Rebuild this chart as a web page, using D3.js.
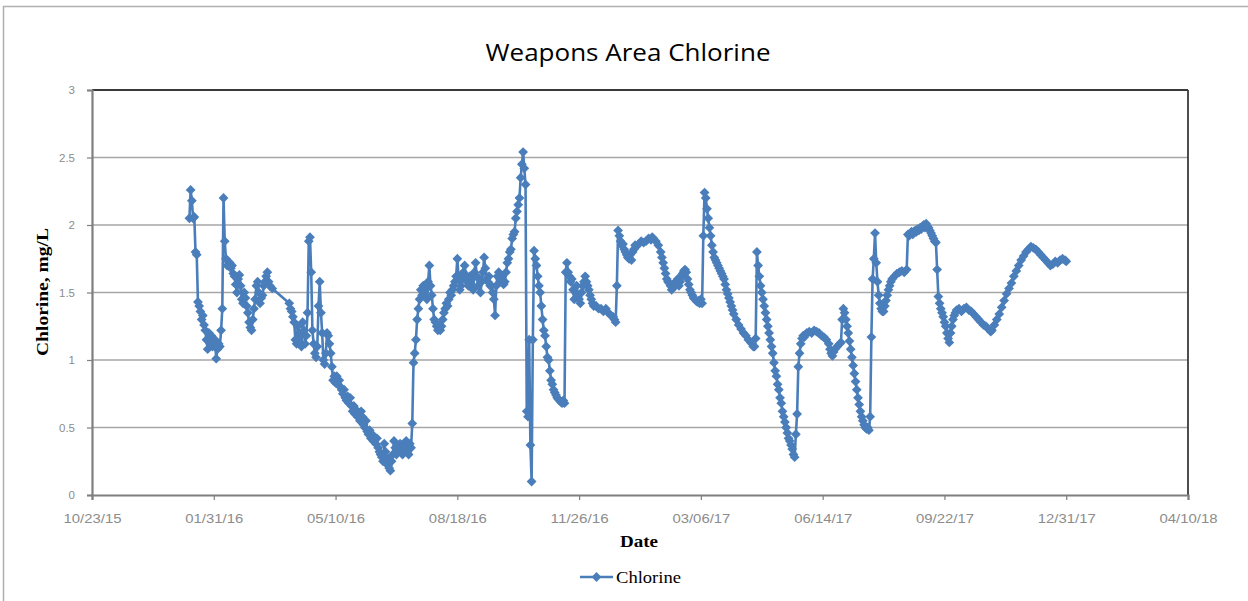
<!DOCTYPE html>
<html>
<head>
<meta charset="utf-8">
<script src="https://cdn.jsdelivr.net/npm/d3@7"></script>
<style>
  html, body { margin: 0; padding: 0; background: #ffffff; }
  svg { display: block; }
</style>
</head>
<body>
<svg id="chart" width="1248" height="601"></svg>
<script>
// ---------- data ----------
const title = "Weapons Area Chlorine";
const seriesName = "Chlorine";
const xTitle = "Date";
const yTitle = "Chlorine, mg/L";
const xTickLabels = ["10/23/15","01/31/16","05/10/16","08/18/16","11/26/16","03/06/17","06/14/17","09/22/17","12/31/17","04/10/18"];
const yTickValues = [0, 0.5, 1, 1.5, 2, 2.5, 3];

const dates = [
"2016-01-11","2016-01-12","2016-01-13","2016-01-14","2016-01-15","2016-01-16","2016-01-17","2016-01-18","2016-01-19","2016-01-20",
"2016-01-21","2016-01-22","2016-01-23","2016-01-24","2016-01-25","2016-01-26","2016-01-27","2016-01-28","2016-01-29","2016-01-30",
"2016-01-31","2016-02-01","2016-02-02","2016-02-03","2016-02-04","2016-02-05","2016-02-06","2016-02-07","2016-02-08","2016-02-09",
"2016-02-10","2016-02-11","2016-02-12","2016-02-13","2016-02-14","2016-02-15","2016-02-16","2016-02-17","2016-02-18","2016-02-19",
"2016-02-20","2016-02-21","2016-02-22","2016-02-23","2016-02-24","2016-02-25","2016-02-26","2016-02-27","2016-02-28","2016-02-29",
"2016-03-01","2016-03-02","2016-03-03","2016-03-04","2016-03-05","2016-03-06","2016-03-07","2016-03-08","2016-03-09","2016-03-10",
"2016-03-11","2016-03-12","2016-03-13","2016-03-14","2016-03-15","2016-03-16","2016-03-17","2016-03-19",
"2016-04-02","2016-04-03","2016-04-04","2016-04-05","2016-04-06","2016-04-07","2016-04-08","2016-04-09","2016-04-10","2016-04-11",
"2016-04-12","2016-04-13","2016-04-14","2016-04-15","2016-04-16","2016-04-17","2016-04-18","2016-04-19","2016-04-20","2016-04-21",
"2016-04-22","2016-04-23","2016-04-24","2016-04-25","2016-04-26","2016-04-27","2016-04-28","2016-04-29","2016-04-30",
"2016-05-01","2016-05-02","2016-05-03","2016-05-04","2016-05-05","2016-05-06","2016-05-07","2016-05-08","2016-05-09","2016-05-10",
"2016-05-11","2016-05-12","2016-05-13","2016-05-14","2016-05-15","2016-05-16","2016-05-17","2016-05-18","2016-05-19","2016-05-20",
"2016-05-21","2016-05-22","2016-05-23","2016-05-24","2016-05-25","2016-05-26","2016-05-27","2016-05-28","2016-05-29","2016-05-30","2016-05-31",
"2016-06-01","2016-06-02","2016-06-03","2016-06-04","2016-06-05","2016-06-06","2016-06-07","2016-06-08","2016-06-09","2016-06-10",
"2016-06-11","2016-06-12","2016-06-13","2016-06-14","2016-06-15","2016-06-16","2016-06-17","2016-06-18","2016-06-19","2016-06-20",
"2016-06-21","2016-06-22","2016-06-23","2016-06-24","2016-06-25","2016-06-26","2016-06-27","2016-06-28","2016-06-29","2016-06-30",
"2016-07-01","2016-07-02","2016-07-03","2016-07-04","2016-07-05","2016-07-06","2016-07-07","2016-07-08","2016-07-09","2016-07-10",
"2016-07-11","2016-07-12","2016-07-13","2016-07-14","2016-07-15","2016-07-16","2016-07-17","2016-07-18","2016-07-19","2016-07-20",
"2016-07-21","2016-07-22","2016-07-23","2016-07-24","2016-07-25","2016-07-26","2016-07-27","2016-07-28","2016-07-29","2016-07-30","2016-07-31",
"2016-08-01","2016-08-02","2016-08-03","2016-08-04","2016-08-05","2016-08-06","2016-08-07","2016-08-08","2016-08-09","2016-08-10",
"2016-08-11","2016-08-12","2016-08-13","2016-08-14","2016-08-15","2016-08-16","2016-08-17","2016-08-18","2016-08-19","2016-08-20",
"2016-08-21","2016-08-22","2016-08-23","2016-08-24","2016-08-25","2016-08-26","2016-08-27","2016-08-28","2016-08-29","2016-08-30","2016-08-31",
"2016-09-01","2016-09-02","2016-09-03","2016-09-04","2016-09-05","2016-09-06","2016-09-07","2016-09-08","2016-09-09","2016-09-10",
"2016-09-11","2016-09-12","2016-09-13","2016-09-14","2016-09-15","2016-09-16","2016-09-17","2016-09-18","2016-09-19","2016-09-20",
"2016-09-21","2016-09-22","2016-09-23","2016-09-24","2016-09-25","2016-09-26","2016-09-27","2016-09-28","2016-09-29","2016-09-30",
"2016-10-01","2016-10-02","2016-10-03","2016-10-04","2016-10-05","2016-10-06","2016-10-07","2016-10-08","2016-10-09","2016-10-10",
"2016-10-11","2016-10-12","2016-10-13","2016-10-14","2016-10-15","2016-10-16","2016-10-17","2016-10-18","2016-10-19","2016-10-20",
"2016-10-21","2016-10-22","2016-10-23","2016-10-24","2016-10-25","2016-10-26","2016-10-27","2016-10-28","2016-10-29","2016-10-30","2016-10-31",
"2016-11-01","2016-11-02","2016-11-03","2016-11-04","2016-11-05","2016-11-06","2016-11-07","2016-11-08","2016-11-09","2016-11-10",
"2016-11-11","2016-11-12","2016-11-13","2016-11-14","2016-11-15","2016-11-16","2016-11-17","2016-11-18","2016-11-19","2016-11-20",
"2016-11-21","2016-11-22","2016-11-23","2016-11-24","2016-11-25","2016-11-26","2016-11-27","2016-11-28","2016-11-29","2016-11-30",
"2016-12-01","2016-12-02","2016-12-03","2016-12-04","2016-12-05","2016-12-06","2016-12-07","2016-12-08","2016-12-10","2016-12-12",
"2016-12-14","2016-12-16","2016-12-18","2016-12-20","2016-12-22","2016-12-24","2016-12-25","2016-12-26","2016-12-27","2016-12-28",
"2016-12-29","2016-12-30","2016-12-31",
"2017-01-01","2017-01-02","2017-01-03","2017-01-04","2017-01-05","2017-01-06","2017-01-07","2017-01-08","2017-01-09","2017-01-10",
"2017-01-11","2017-01-12","2017-01-14","2017-01-16","2017-01-18","2017-01-20","2017-01-22","2017-01-24","2017-01-25","2017-01-26",
"2017-01-28","2017-01-30",
"2017-02-01","2017-02-02","2017-02-03","2017-02-04","2017-02-05","2017-02-06","2017-02-07","2017-02-08","2017-02-09","2017-02-10",
"2017-02-11","2017-02-12","2017-02-13","2017-02-14","2017-02-15","2017-02-16","2017-02-17","2017-02-18","2017-02-19","2017-02-20",
"2017-02-21","2017-02-22","2017-02-23","2017-02-24","2017-02-25","2017-02-26","2017-02-27","2017-02-28",
"2017-03-01","2017-03-02","2017-03-03","2017-03-04","2017-03-05","2017-03-06","2017-03-07","2017-03-08","2017-03-09","2017-03-10",
"2017-03-11","2017-03-12","2017-03-13","2017-03-14","2017-03-15","2017-03-16","2017-03-17","2017-03-18","2017-03-19","2017-03-20",
"2017-03-21","2017-03-22","2017-03-23","2017-03-24","2017-03-25","2017-03-26","2017-03-27","2017-03-28","2017-03-29","2017-03-30","2017-03-31",
"2017-04-01","2017-04-02","2017-04-04","2017-04-06","2017-04-08","2017-04-10","2017-04-12","2017-04-14","2017-04-16","2017-04-17",
"2017-04-18","2017-04-19","2017-04-20","2017-04-21","2017-04-22","2017-04-23","2017-04-24","2017-04-25","2017-04-26","2017-04-27",
"2017-04-28","2017-04-29","2017-04-30",
"2017-05-01","2017-05-02","2017-05-03","2017-05-04","2017-05-05","2017-05-06","2017-05-07","2017-05-08","2017-05-09","2017-05-10",
"2017-05-11","2017-05-12","2017-05-13","2017-05-14","2017-05-15","2017-05-16","2017-05-17","2017-05-18","2017-05-19","2017-05-20",
"2017-05-21","2017-05-22","2017-05-23","2017-05-24","2017-05-25","2017-05-26","2017-05-27","2017-05-28","2017-05-29","2017-05-30","2017-05-31",
"2017-06-01","2017-06-03","2017-06-05","2017-06-07","2017-06-09","2017-06-11","2017-06-13","2017-06-15","2017-06-17","2017-06-19",
"2017-06-20","2017-06-21","2017-06-22","2017-06-23","2017-06-24","2017-06-26","2017-06-28","2017-06-29","2017-06-30",
"2017-07-01","2017-07-02","2017-07-03","2017-07-04","2017-07-05","2017-07-06","2017-07-07","2017-07-08","2017-07-09","2017-07-10",
"2017-07-11","2017-07-12","2017-07-13","2017-07-14","2017-07-15","2017-07-16","2017-07-17","2017-07-18","2017-07-19","2017-07-20",
"2017-07-21","2017-07-22","2017-07-23","2017-07-24","2017-07-25","2017-07-26","2017-07-27","2017-07-28","2017-07-29","2017-07-30","2017-07-31",
"2017-08-01","2017-08-02","2017-08-03","2017-08-04","2017-08-05","2017-08-06","2017-08-07","2017-08-08","2017-08-09","2017-08-10",
"2017-08-12","2017-08-14","2017-08-16","2017-08-18","2017-08-20","2017-08-22","2017-08-23","2017-08-24","2017-08-25","2017-08-26",
"2017-08-27","2017-08-28","2017-08-29","2017-08-30","2017-08-31",
"2017-09-01","2017-09-02","2017-09-03","2017-09-04","2017-09-05","2017-09-06","2017-09-07","2017-09-08","2017-09-09","2017-09-10",
"2017-09-11","2017-09-12","2017-09-13","2017-09-14","2017-09-15","2017-09-16","2017-09-17","2017-09-18","2017-09-19","2017-09-20",
"2017-09-21","2017-09-22","2017-09-23","2017-09-24","2017-09-25","2017-09-26","2017-09-27","2017-09-28","2017-09-29","2017-09-30",
"2017-10-01","2017-10-02","2017-10-04","2017-10-06","2017-10-08","2017-10-10","2017-10-12","2017-10-14","2017-10-16","2017-10-18",
"2017-10-20","2017-10-22","2017-10-24","2017-10-26","2017-10-28","2017-10-30","2017-10-31",
"2017-11-02","2017-11-04","2017-11-06","2017-11-08","2017-11-10","2017-11-12","2017-11-14","2017-11-16","2017-11-18","2017-11-20",
"2017-11-22","2017-11-24","2017-11-26","2017-11-28","2017-11-30",
"2017-12-02","2017-12-04","2017-12-06","2017-12-08","2017-12-10","2017-12-12","2017-12-14","2017-12-16","2017-12-18","2017-12-20",
"2017-12-22","2017-12-24","2017-12-26","2017-12-28","2017-12-30","2017-12-31"
];

const chlorine = [
2.05,2.26,2.18,2.05,2.06,1.80,1.78,1.43,1.40,1.36,
1.30,1.33,1.26,1.22,1.15,1.08,1.20,1.12,1.18,1.10,
1.12,1.15,1.01,1.08,1.12,1.10,1.22,1.38,2.20,1.88,
1.75,1.70,1.73,1.72,1.68,1.70,1.64,1.62,1.56,1.50,
1.60,1.63,1.55,1.45,1.42,1.50,1.46,1.40,1.35,1.28,
1.24,1.22,1.30,1.38,1.45,1.55,1.58,1.50,1.42,1.46,
1.48,1.55,1.58,1.62,1.65,1.58,1.55,1.53,
1.42,1.38,1.36,1.32,1.28,1.15,1.12,1.25,1.20,1.12,
1.10,1.28,1.22,1.12,1.18,1.35,1.88,1.91,1.65,1.22,
1.12,1.05,1.02,1.10,1.40,1.58,1.35,1.20,1.00,
0.97,1.05,1.20,1.18,1.12,1.05,0.95,0.85,0.88,0.83,
0.88,0.82,0.85,0.80,0.78,0.75,0.78,0.72,0.70,0.73,
0.68,0.72,0.66,0.62,0.66,0.60,0.63,0.58,0.60,0.55,0.62,
0.58,0.52,0.50,0.55,0.47,0.45,0.48,0.42,0.45,0.40,
0.42,0.38,0.42,0.35,0.32,0.30,0.28,0.25,0.38,0.32,
0.28,0.22,0.20,0.18,0.25,0.30,0.40,0.35,0.30,0.32,
0.33,0.38,0.35,0.30,0.38,0.35,0.40,0.32,0.30,0.38,
0.35,0.53,0.98,1.05,1.15,1.30,1.38,1.45,1.52,1.48,
1.55,1.50,1.52,1.45,1.58,1.70,1.55,1.48,1.38,1.30,1.28,
1.25,1.22,1.26,1.22,1.25,1.30,1.35,1.38,1.42,1.40,
1.45,1.50,1.48,1.52,1.55,1.58,1.62,1.75,1.62,1.52,
1.55,1.60,1.65,1.70,1.62,1.58,1.55,1.62,1.55,1.60,1.52,
1.65,1.72,1.62,1.55,1.60,1.50,1.58,1.65,1.76,1.68,
1.60,1.58,1.62,1.55,1.55,1.50,1.45,1.33,1.55,1.62,
1.65,1.60,1.58,1.62,1.56,1.58,1.65,1.72,1.75,1.80,
1.82,1.90,1.93,1.95,2.05,2.10,2.15,2.20,2.35,2.45,
2.54,2.42,2.30,0.62,0.58,1.15,0.37,0.10,1.15,1.81,
1.75,1.70,1.62,1.55,1.50,1.40,1.30,1.22,1.18,1.10,1.02,
1.00,0.92,0.85,0.82,0.78,0.76,0.74,0.72,0.71,0.70,
0.69,0.68,0.70,0.68,1.65,1.72,1.65,1.62,1.58,1.60,
1.52,1.45,1.50,1.55,1.48,1.45,1.42,1.50,1.55,1.58,
1.62,1.58,1.55,1.52,1.48,1.45,1.42,1.40,1.40,1.38,
1.38,1.36,1.38,1.35,1.33,1.32,1.30,1.28,1.55,1.96,
1.92,1.88,1.85,
1.86,1.82,1.80,1.78,1.76,1.75,1.78,1.74,1.80,1.82,
1.85,1.84,1.86,1.88,1.87,1.88,1.90,1.89,1.91,1.90,
1.88,1.85,
1.80,1.76,1.72,1.68,1.64,1.60,1.58,1.57,1.55,1.52,
1.55,1.57,1.55,1.58,1.60,1.55,1.58,1.62,1.64,1.66,
1.67,1.65,1.60,1.56,1.52,1.50,1.48,1.46,
1.45,1.44,1.43,1.44,1.42,1.45,1.42,1.92,2.24,2.20,
2.12,2.05,1.98,1.92,1.85,1.80,1.76,1.74,1.72,1.70,
1.68,1.66,1.64,1.62,1.60,1.56,1.52,1.49,1.46,1.43,1.40,
1.37,1.34,1.30,1.26,1.23,1.20,1.18,1.15,1.13,1.12,
1.10,1.10,1.16,1.80,1.70,1.62,1.55,1.50,1.45,1.40,
1.35,1.30,1.25,
1.20,1.15,1.10,1.05,0.98,0.92,0.88,0.82,0.78,0.72,
0.68,0.62,0.58,0.54,0.50,0.46,0.42,0.40,0.37,0.34,
0.30,0.28,0.45,0.60,0.95,1.05,1.12,1.16,1.18,1.17,1.19,
1.20,1.21,1.20,1.22,1.21,1.20,1.18,1.17,1.15,1.12,
1.08,1.05,1.03,1.06,1.08,1.10,1.12,1.13,1.30,
1.38,1.35,1.30,1.25,1.20,1.14,1.08,1.02,0.96,0.90,
0.84,0.78,0.72,0.67,0.62,0.58,0.55,0.52,0.50,0.49,
0.50,0.48,0.58,1.17,1.60,1.75,1.94,1.72,1.58,1.48,1.42,
1.38,1.36,1.36,1.40,1.44,1.48,1.52,1.55,1.58,1.60,
1.62,1.64,1.65,1.66,1.65,1.67,1.93,1.92,1.94,1.95,
1.93,1.95,1.96,1.95,1.97,
1.96,1.98,1.97,1.99,2.00,1.98,2.01,1.99,1.98,1.96,
1.94,1.92,1.90,1.88,1.87,1.67,1.47,1.42,1.38,1.35,
1.32,1.28,1.25,1.20,1.16,1.13,1.20,1.25,1.30,1.33,
1.35,1.37,1.38,1.36,1.38,1.39,1.37,1.36,1.34,1.32,
1.30,1.28,1.26,1.25,1.23,1.21,1.22,
1.26,1.30,1.34,1.39,1.44,1.49,1.53,1.57,1.62,1.66,
1.70,1.74,1.77,1.80,1.82,
1.84,1.83,1.82,1.80,1.78,1.76,1.74,1.72,1.70,1.71,
1.73,1.72,1.74,1.75,1.74,1.73
];

// ---------- chart ----------
const W = 1248, H = 601;
const plot = { left: 92, right: 1188, top: 90, bottom: 495 };
const blue = "#4a7ebb";
const svg = d3.select("#chart");

const parseISO = d3.timeParse("%Y-%m-%d");
const parseTick = d3.timeParse("%m/%d/%y");
const data = dates.map((d, i) => ({ date: parseISO(d), value: chlorine[i] }));
const tickDates = xTickLabels.map(parseTick);

const x = d3.scaleTime()
  .domain([tickDates[0], tickDates[tickDates.length - 1]])
  .range([plot.left, plot.right]);
const y = d3.scaleLinear().domain([0, 3]).range([plot.bottom, plot.top]);

// outer chart border
svg.append("rect")
  .attr("x", 3.5).attr("y", 6.5)
  .attr("width", W + 10).attr("height", H + 10)
  .attr("fill", "none").attr("stroke", "#b0b0b0").attr("stroke-width", 1.5);

// gridlines
svg.append("g").selectAll("line")
  .data(yTickValues.filter(v => v > 0 && v < 3))
  .join("line")
  .attr("x1", plot.left).attr("x2", plot.right)
  .attr("y1", d => y(d)).attr("y2", d => y(d))
  .attr("stroke", "#a6a6a6").attr("stroke-width", 1.6);

// plot area border (top/right dark)
svg.append("line").attr("x1", plot.left).attr("x2", plot.right)
  .attr("y1", plot.top).attr("y2", plot.top)
  .attr("stroke", "#3a3a3a").attr("stroke-width", 1.8);
svg.append("line").attr("x1", plot.right).attr("x2", plot.right)
  .attr("y1", plot.top).attr("y2", plot.bottom)
  .attr("stroke", "#3a3a3a").attr("stroke-width", 1.8);

// y axis
const yAxis = d3.axisLeft(y).tickValues(yTickValues).tickSize(5).tickPadding(12)
  .tickFormat(d3.format("~g"));
const gy = svg.append("g").attr("transform", `translate(${plot.left},0)`).call(yAxis);
gy.select(".domain").attr("stroke", "#7f7f7f").attr("stroke-width", 2.2);
gy.selectAll(".tick line").attr("stroke", "#7f7f7f").attr("stroke-width", 1.2);
gy.selectAll(".tick text")
  .attr("fill", "#8c8c8c")
  .style("font-family", "'Liberation Sans', Arial, sans-serif")
  .style("font-size", "11.5px");

// x axis
const xAxis = d3.axisBottom(x).tickValues(tickDates).tickSize(5).tickPadding(14)
  .tickFormat((d, i) => xTickLabels[i]);
const gx = svg.append("g").attr("transform", `translate(0,${plot.bottom})`).call(xAxis);
gx.select(".domain").attr("stroke", "#7f7f7f").attr("stroke-width", 2.2);
gx.selectAll(".tick line").attr("stroke", "#7f7f7f").attr("stroke-width", 1.2);
gx.selectAll(".tick text")
  .attr("fill", "#8c8c8c")
  .attr("textLength", 58).attr("lengthAdjust", "spacingAndGlyphs")
  .style("font-family", "'Liberation Sans', Arial, sans-serif")
  .style("font-size", "12px");

// series line
const line = d3.line().x(d => x(d.date)).y(d => y(d.value));
svg.append("path").datum(data)
  .attr("d", line)
  .attr("fill", "none").attr("stroke", blue)
  .attr("stroke-width", 2.6).attr("stroke-linejoin", "round");

// diamond markers
const diamond = d3.symbol().type(d3.symbolSquare).size(48);
svg.append("g").selectAll("path")
  .data(data)
  .join("path")
  .attr("d", diamond)
  .attr("transform", d => `translate(${x(d.date)},${y(d.value)}) rotate(45)`)
  .attr("fill", blue);

// title
svg.append("text")
  .attr("x", 628).attr("y", 61)
  .attr("text-anchor", "middle")
  .attr("textLength", 285).attr("lengthAdjust", "spacingAndGlyphs")
  .style("font-family", "'Open Sans', 'Liberation Sans', sans-serif")
  .style("font-size", "23px")
  .style("font-weight", "500")
  .attr("fill", "#000")
  .text(title);

// x axis title
svg.append("text")
  .attr("x", 639).attr("y", 547)
  .attr("text-anchor", "middle")
  .attr("textLength", 38).attr("lengthAdjust", "spacingAndGlyphs")
  .style("font-family", "'Liberation Serif', 'Times New Roman', serif")
  .style("font-weight", "bold")
  .style("font-size", "16px")
  .attr("fill", "#000")
  .text(xTitle);

// y axis title
svg.append("text")
  .attr("transform", "translate(48,292) rotate(-90)")
  .attr("text-anchor", "middle")
  .attr("textLength", 128).attr("lengthAdjust", "spacingAndGlyphs")
  .style("font-family", "'Liberation Serif', 'Times New Roman', serif")
  .style("font-weight", "bold")
  .style("font-size", "17px")
  .attr("fill", "#000")
  .text(yTitle);

// legend
const lg = svg.append("g");
lg.append("line").attr("x1", 580).attr("x2", 613).attr("y1", 577).attr("y2", 577)
  .attr("stroke", blue).attr("stroke-width", 2.6);
lg.append("path").attr("d", diamond).attr("transform", "translate(596.5,577) rotate(45)").attr("fill", blue);
lg.append("text")
  .attr("x", 616).attr("y", 583)
  .attr("textLength", 65).attr("lengthAdjust", "spacingAndGlyphs")
  .style("font-family", "'Liberation Serif', 'Times New Roman', serif")
  .style("font-size", "16px")
  .attr("fill", "#000")
  .text(seriesName);
</script>
</body>
</html>
